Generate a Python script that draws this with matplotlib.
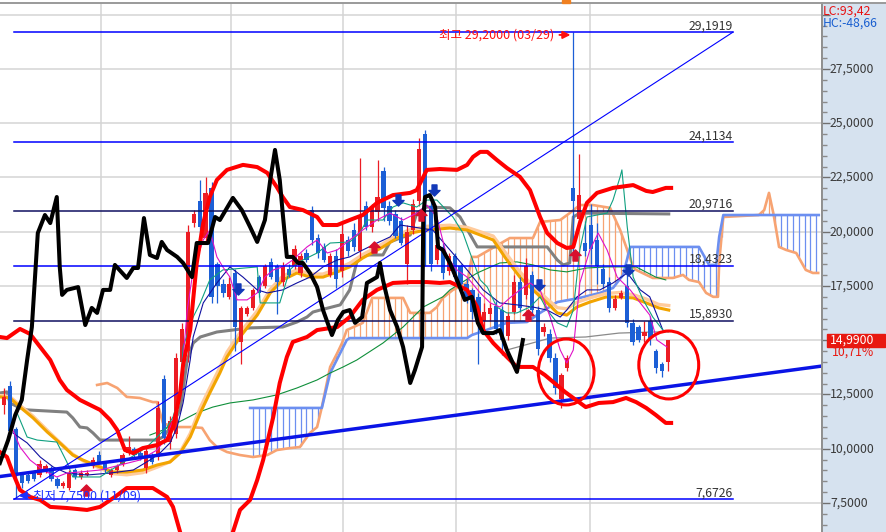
import numpy as np
import matplotlib
matplotlib.use('Agg')
import matplotlib.pyplot as plt
from matplotlib.patches import Ellipse, Rectangle
from matplotlib.path import Path
from matplotlib import font_manager

# ---------------- DATA ----------------
candle_open = [12.0, 12.9, 10.9, 8.9, 8.8, 8.9, 8.8, 9.0, 9.1, 8.6, 8.3, 8.2, 9.0, 8.7, 8.8, 9.2, 9.7, 9.3, 8.8, 9.0,
               9.3, 9.8, 10.0, 9.8, 9.1, 9.7, 9.6, 13.2, 10.3, 10.7, 14.0, 14.5, 20.4, 21.4, 19.7, 22.0, 18.5, 17.6, 17.0, 18.1,
               14.9, 16.2, 16.5, 17.9, 17.5, 18.6, 18.4, 17.7, 18.3, 18.4, 18.1, 19.0, 21.0, 19.7, 19.3, 18.0, 18.9, 18.2, 19.6, 20.1,
               19.1, 21.2, 20.2, 20.9, 22.8, 21.2, 20.8, 20.5, 18.5, 20.1, 21.4, 24.5, 21.2, 18.7, 19.3, 18.2, 18.9, 18.4, 17.6, 17.3,
               17.0, 15.9, 16.2, 16.6, 16.4, 15.2, 16.3, 17.7, 17.1, 18.0, 16.4, 15.4, 15.3, 14.2, 12.3, 13.7, 22.0, 20.6, 19.5, 20.3,
               19.6, 18.3, 17.7, 16.5, 16.95, 17.5, 15.8, 15.6, 15.2, 15.9, 14.5, 13.9, 14.0]
candle_high = [12.8, 13.1, 11.0, 8.95, 8.9, 9.0, 9.5, 9.3, 9.2, 8.7, 8.5, 9.0, 9.1, 9.0, 9.0, 9.6, 9.9, 9.4, 9.1, 9.3,
               9.8, 10.6, 10.1, 9.9, 10.1, 9.8, 12.2, 13.4, 11.5, 14.4, 15.8, 20.3, 21.0, 22.4, 22.5, 22.3, 18.6, 17.8, 17.9, 18.3,
               16.6, 16.6, 17.4, 18.0, 18.5, 18.8, 18.5, 18.6, 18.5, 19.4, 19.0, 19.2, 21.2, 19.9, 19.5, 19.0, 19.2, 20.4, 19.8, 20.4,
               23.4, 21.4, 21.3, 23.3, 23.0, 21.4, 21.0, 20.7, 20.3, 21.5, 24.3, 24.7, 21.6, 19.5, 19.5, 19.0, 19.0, 18.5, 17.8, 17.4,
               17.2, 16.7, 16.7, 16.8, 16.6, 16.3, 18.0, 17.9, 18.8, 18.2, 16.6, 15.8, 15.5, 14.4, 13.5, 14.3, 29.2, 23.6, 20.5, 21.3,
               20.4, 18.5, 17.9, 17.1, 17.3, 18.0, 16.0, 15.7, 15.9, 16.1, 14.6, 14.0, 15.0]
candle_low = [11.6, 10.6, 7.75, 8.2, 8.4, 8.5, 8.7, 8.9, 8.5, 8.2, 8.2, 8.1, 8.6, 8.6, 8.75, 9.1, 9.3, 8.9, 8.7, 8.9,
              9.2, 9.7, 9.6, 9.5, 8.9, 9.3, 9.5, 10.2, 10.0, 10.5, 13.8, 14.0, 20.2, 19.6, 19.5, 16.7, 16.7, 17.0, 16.9, 14.5,
              13.9, 16.1, 16.4, 17.0, 17.4, 17.8, 16.2, 17.5, 17.9, 18.3, 17.9, 18.6, 19.4, 18.8, 18.6, 17.9, 17.4, 17.9, 18.9, 19.1,
              18.8, 20.1, 20.0, 20.5, 20.5, 20.3, 19.7, 19.4, 17.6, 19.9, 21.2, 18.4, 18.2, 18.5, 17.8, 18.0, 17.7, 17.5, 16.7, 16.0,
              13.9, 15.5, 15.9, 15.3, 14.3, 15.0, 16.2, 16.3, 16.9, 16.2, 14.3, 15.2, 14.0, 12.5, 11.9, 13.6, 18.7, 20.4, 18.9, 18.5,
              17.6, 17.4, 16.3, 16.4, 16.9, 15.6, 14.8, 14.9, 14.9, 14.8, 13.5, 13.3, 13.6]
candle_close = [12.4, 10.8, 8.8, 8.4, 8.5, 8.6, 9.3, 9.2, 8.6, 8.3, 8.4, 8.9, 8.7, 8.9, 8.9, 9.5, 9.4, 9.0, 9.0, 9.2,
                9.7, 10.1, 9.7, 9.6, 9.9, 9.4, 11.9, 10.5, 11.3, 14.2, 15.5, 20.0, 20.8, 20.2, 21.8, 17.0, 17.5, 17.2, 17.6, 15.6,
                16.5, 16.5, 17.3, 17.2, 18.4, 17.9, 17.7, 18.4, 18.0, 19.2, 18.9, 18.7, 19.6, 19.0, 18.7, 18.9, 17.8, 19.9, 19.1, 19.3,
                20.7, 20.2, 21.1, 21.6, 21.1, 20.5, 19.8, 19.5, 20.0, 21.3, 23.8, 21.6, 18.5, 19.4, 18.1, 18.9, 17.9, 17.6, 16.9, 16.3,
                16.0, 16.3, 16.5, 15.5, 15.0, 16.1, 17.7, 16.5, 18.4, 16.4, 14.6, 15.6, 14.2, 12.8, 13.4, 14.2, 21.4, 21.7, 19.1, 19.2,
                18.4, 17.6, 16.5, 16.9, 17.2, 15.8, 14.9, 15.0, 15.4, 15.1, 13.7, 13.6, 14.99]

bb_upper = [(-0.7, 15.15), (0.5, 15.10), (2.7, 15.52), (4.4, 15.29), (6.1, 14.69), (7.8, 14.09), (9.4, 13.17),
            (10.6, 12.71), (12.8, 12.25), (16.2, 11.79), (17.9, 11.33), (19.1, 10.86), (20.4, 9.94), (21.8, 9.80),
            (23.4, 10.03), (25.8, 10.17), (26.8, 10.31), (27.5, 10.40), (28.5, 11.0), (29.7, 12.57), (30.2, 13.86),
            (31.4, 15.47), (32.5, 18.56), (33.6, 20.40), (34.7, 21.60), (35.9, 22.39), (37.6, 22.85), (40.3, 23.08),
            (42.7, 22.98), (44.4, 22.71), (46.0, 22.06), (47.0, 21.60), (48.2, 21.14), (50.4, 21.00), (52.8, 20.68),
            (53.8, 20.31), (56.2, 20.31), (58.3, 20.54), (60.5, 20.77), (62.9, 21.33), (65.6, 21.69), (68.5, 21.79),
            (69.6, 21.92), (71.3, 22.85), (73.5, 22.89), (76.4, 22.85), (78.1, 23.08), (79.1, 23.45), (80.3, 23.68),
            (81.5, 23.68), (83.1, 23.31), (84.8, 22.94), (87.0, 22.53), (88.7, 21.92), (90.4, 20.68), (91.6, 19.94),
            (93.3, 19.48), (94.9, 19.25), (96.0, 19.30), (97.1, 20.40), (98.3, 21.33), (100.0, 21.79), (102.7, 22.02),
            (106.1, 22.15), (108.3, 21.88), (109.4, 21.83), (111.6, 22.02), (112.5, 22.02)]
bb_lower = [(-0.7, 9.85), (0.5, 9.62), (1.5, 8.88), (2.7, 8.10), (4.4, 7.78), (6.1, 7.64), (7.8, 7.32), (10.6, 7.27),
            (14.0, 7.18), (16.2, 7.32), (18.7, 7.78), (20.7, 8.19), (22.9, 8.19), (25.1, 8.19), (27.5, 7.78), (28.5, 7.32),
            (29.7, 6.16), (30.2, 5.6), (37.9, 5.57), (38.6, 6.16), (39.8, 7.18), (41.5, 7.64), (42.7, 8.56), (43.7, 9.48),
            (45.4, 11.46), (46.5, 13.03), (47.7, 14.23), (48.7, 14.92), (51.1, 15.15), (52.8, 15.47), (56.2, 15.61),
            (58.3, 16.07), (60.5, 16.86), (62.9, 17.32), (65.6, 17.64), (68.5, 17.68), (71.3, 17.68), (73.5, 17.64),
            (75.2, 17.68), (78.1, 17.32), (79.8, 16.53), (80.8, 15.47), (82.5, 14.87), (84.8, 14.23), (86.5, 13.77),
            (89.2, 13.77), (91.2, 13.40), (94.6, 12.62), (98.1, 11.92), (100.3, 12.11), (102.7, 12.15), (104.9, 12.34),
            (106.6, 12.15), (108.3, 11.88), (109.9, 11.56), (111.6, 11.19), (112.5, 11.19)]
black_line = [(-0.7, 9.34), (0.7, 10.40), (1.9, 11.56), (3.0, 12.25), (3.9, 14.09), (4.7, 15.61), (5.2, 17.78),
              (5.7, 19.94), (6.9, 20.77), (7.8, 20.40), (8.9, 21.60), (9.4, 18.38), (9.8, 17.09), (10.6, 17.32),
              (12.5, 17.45), (13.7, 15.70), (14.8, 16.49), (15.7, 16.26), (16.7, 17.32), (17.9, 17.32), (18.7, 18.47),
              (20.7, 17.87), (21.8, 18.33), (22.6, 18.33), (23.6, 20.63), (24.6, 18.93), (25.8, 18.79), (26.6, 19.53),
              (27.5, 19.16), (29.2, 18.84), (30.2, 18.56), (31.7, 17.91), (32.5, 19.48), (34.4, 19.48), (35.6, 20.68),
              (36.4, 20.54), (38.6, 21.56), (40.1, 21.00), (41.5, 20.22), (42.7, 19.53), (44.0, 20.54), (44.9, 22.39),
              (45.7, 23.77), (46.5, 22.39), (47.0, 20.86), (47.7, 18.84), (48.7, 18.84), (49.6, 18.56), (50.4, 18.56),
              (51.6, 18.10), (52.8, 17.45), (53.8, 16.39), (55.3, 15.24), (56.3, 15.93), (57.2, 16.30), (58.3, 16.39),
              (59.2, 15.80), (60.4, 16.07), (61.2, 17.64), (62.9, 17.91), (63.4, 18.56), (63.9, 17.78), (65.1, 16.39),
              (66.3, 15.61), (67.3, 14.69), (68.5, 13.03), (69.3, 13.63), (70.5, 14.69), (70.7, 20.68), (71.0, 21.60),
              (71.8, 21.69), (72.7, 21.14), (73.2, 19.30), (74.0, 19.16), (75.2, 18.56), (76.6, 17.64), (77.7, 16.86),
              (78.9, 17.00), (79.9, 15.80), (80.8, 15.33), (82.5, 15.33), (83.6, 15.47), (84.8, 14.55), (86.5, 13.54),
              (87.5, 15.01)]
span_a = [(15.7, 12.94), (17.4, 13.03), (19.1, 12.80), (20.7, 12.39), (22.9, 12.34), (25.1, 12.15), (25.8, 12.15),
          (26.8, 11.19), (28.5, 11.00), (31.4, 11.00), (33.4, 10.96), (34.7, 10.40), (35.9, 10.08), (37.6, 9.85),
          (39.8, 9.71), (42.0, 9.62), (44.4, 9.71), (46.0, 9.94), (48.2, 10.03), (49.9, 10.08), (51.6, 10.73),
          (52.8, 11.00), (53.6, 11.92), (55.0, 13.77), (56.2, 14.41), (57.0, 14.87), (57.8, 15.47), (60.5, 15.80),
          (62.1, 16.95), (63.9, 16.95), (67.3, 16.95), (68.5, 16.26), (71.8, 16.26), (73.0, 16.53), (74.0, 16.95),
          (75.7, 17.32), (78.1, 17.64), (78.9, 18.84), (79.8, 18.84), (85.3, 19.71), (89.2, 19.71), (90.4, 20.45),
          (93.8, 20.54), (95.4, 20.86), (97.1, 21.23), (99.3, 21.23), (102.2, 21.10), (103.9, 20.08), (105.1, 19.16),
          (106.1, 18.38), (106.6, 18.24), (109.4, 17.87), (112.8, 17.87), (114.5, 18.01), (115.5, 17.78), (117.2, 17.68),
          (118.4, 17.18), (119.6, 17.00), (120.4, 17.00), (120.6, 18.56), (121.3, 20.68), (127.3, 20.77), (128.2, 21.00),
          (129.0, 21.79), (129.8, 20.77), (130.7, 19.30), (131.9, 19.16), (133.6, 19.02), (135.2, 18.24), (136.4, 18.10),
          (137.3, 18.10)]
span_b = [(41.5, 11.88), (53.6, 11.88), (55.0, 13.49), (56.7, 14.41), (57.8, 15.01), (58.3, 15.10), (78.1, 15.10),
          (78.9, 15.24), (84.8, 15.80), (88.2, 15.84), (90.4, 16.26), (93.3, 16.76), (97.1, 16.95), (100.5, 17.18),
          (102.7, 17.41), (104.4, 18.01), (105.6, 19.30), (114.5, 19.30), (117.2, 19.30), (118.9, 18.47), (120.1, 18.47),
          (120.6, 19.76), (121.3, 20.77), (137.4, 20.77)]
ma_orange = [(-0.7, 12.39), (1.0, 12.34), (2.7, 11.92), (4.9, 11.42), (7.3, 10.77), (9.4, 10.27), (11.6, 9.71),
             (13.3, 9.48), (16.2, 9.16), (18.4, 8.93), (20.7, 8.93), (23.4, 9.02), (25.8, 9.25), (28.0, 9.39), (29.7, 9.80),
             (31.4, 10.54), (33.1, 11.65), (34.7, 12.57), (36.4, 13.49), (37.6, 14.23), (39.8, 15.15), (42.7, 16.16),
             (44.9, 17.18), (47.0, 17.78), (49.4, 18.10), (51.6, 17.91), (53.8, 17.91), (56.2, 18.15), (58.3, 18.38),
             (60.5, 18.79), (63.9, 19.30), (66.3, 19.71), (68.5, 19.94), (71.3, 20.08), (75.2, 20.17), (78.1, 20.08),
             (80.3, 19.85), (82.5, 19.62), (84.8, 18.70), (87.0, 17.91), (89.2, 17.32), (91.6, 16.72), (93.3, 16.26),
             (94.9, 16.16), (96.6, 16.53), (98.8, 16.76), (101.5, 16.99), (103.7, 16.99), (106.1, 16.95), (108.3, 16.72),
             (110.4, 16.49), (112.1, 16.39)]
ma_peach = [(-0.7, 12.45), (1.0, 12.40), (2.7, 12.0), (4.9, 11.5), (7.3, 10.85), (9.4, 10.3), (11.6, 9.75), (13.3, 9.45),
            (16.2, 9.1), (18.4, 8.85), (20.7, 8.8), (23.4, 8.9), (25.8, 9.15), (28.0, 9.4), (29.7, 9.85), (31.4, 10.7),
            (33.1, 11.9), (34.7, 12.8), (36.4, 13.75), (37.6, 14.45), (39.8, 15.35), (42.7, 16.35), (44.9, 17.35),
            (47.0, 17.95), (49.4, 18.25), (51.6, 18.05), (53.8, 18.05), (56.2, 18.3), (58.3, 18.55), (60.5, 18.95),
            (63.9, 19.45), (66.3, 19.85), (68.5, 20.1), (71.3, 20.25), (75.2, 20.3), (78.1, 20.2), (80.3, 20.0),
            (82.5, 19.8), (84.8, 18.95), (87.0, 18.15), (89.2, 17.5), (91.6, 16.9), (93.3, 16.5), (94.9, 16.45),
            (96.6, 16.75), (98.8, 16.95), (101.5, 17.15), (103.7, 17.2), (106.1, 17.1), (108.3, 16.9), (110.4, 16.65),
            (112.1, 16.6)]
ma_green = [(24.6, 10.63), (26.8, 10.86), (29.2, 11.19), (32.5, 11.65), (35.2, 11.92), (38.1, 12.11), (42.0, 12.25),
            (46.0, 12.48), (49.4, 12.80), (52.8, 13.17), (55.0, 13.49), (57.2, 13.77), (59.5, 14.09), (63.9, 14.87),
            (67.3, 15.61), (70.7, 16.53), (74.0, 17.00), (75.2, 17.32), (79.8, 18.10), (83.6, 18.56), (86.5, 18.61),
            (89.2, 18.47), (92.1, 18.24), (94.9, 18.15), (98.3, 18.33), (101.7, 18.38), (106.6, 18.38), (109.9, 17.91),
            (111.6, 17.78)]
gray_thick = [(-0.7, 12.57), (0.5, 12.62), (1.0, 12.11), (2.7, 11.88), (3.9, 11.79), (10.6, 11.69), (11.6, 11.42),
              (12.8, 11.00), (14.0, 10.96), (15.0, 10.73), (16.2, 10.40), (25.8, 10.40), (26.8, 10.54), (28.0, 10.96),
              (29.7, 11.79), (30.9, 14.09), (31.9, 14.87), (33.1, 15.15), (35.9, 15.38), (41.5, 15.57), (47.0, 15.61),
              (49.4, 15.84), (51.1, 16.07), (52.1, 16.30), (53.3, 16.39), (56.7, 16.63), (58.3, 17.32), (59.5, 18.61),
              (60.5, 18.93), (63.9, 18.93), (65.1, 19.53), (67.3, 19.76), (68.5, 19.85), (69.6, 20.86), (71.3, 21.14),
              (75.2, 21.10), (76.9, 20.68), (79.8, 19.30), (91.6, 19.30), (93.3, 18.70), (94.3, 18.47), (95.4, 18.56),
              (96.0, 20.68), (97.1, 20.86), (112.1, 20.82)]
gray_thin = [(84.8, 14.55), (92.1, 15.10), (98.1, 15.15), (103.7, 15.33), (109.4, 15.38), (111.6, 15.38)]
ma_magenta = [(1.5, 10.86), (2.7, 10.08), (4.4, 9.48), (6.6, 9.02), (8.9, 8.70), (10.6, 8.88), (12.8, 8.93), (16.2, 9.02),
              (19.6, 9.25), (22.9, 9.48), (25.8, 9.94), (27.5, 10.54), (28.5, 11.33), (29.7, 12.57), (30.9, 16.39),
              (31.9, 18.24), (33.6, 19.62), (34.7, 20.08), (35.9, 18.84), (36.9, 18.38), (38.1, 17.91), (39.3, 16.86),
              (41.0, 16.86), (42.7, 17.18), (44.0, 17.91), (45.4, 18.24), (47.0, 18.38), (48.7, 18.70), (51.1, 19.30),
              (52.8, 19.62), (54.5, 19.02), (56.2, 19.16), (58.3, 19.62), (60.5, 20.08), (62.9, 20.54), (65.1, 20.86),
              (67.3, 20.54), (69.6, 20.86), (71.3, 21.23), (73.0, 20.68), (74.7, 18.84), (76.4, 18.24), (78.1, 17.91),
              (80.3, 17.18), (82.0, 16.72), (83.6, 16.53), (85.3, 16.95), (87.0, 17.32), (88.7, 17.64), (90.4, 17.32),
              (92.1, 16.07), (93.8, 14.55), (94.9, 13.95), (96.0, 14.55), (97.1, 17.64), (98.8, 19.16), (100.2, 19.94),
              (101.7, 19.16), (103.4, 17.91), (105.6, 17.32), (107.3, 16.72), (108.9, 16.16), (110.1, 15.01),
              (111.8, 14.69)]
ma_teal = [(2.2, 11.65), (3.9, 10.54), (5.6, 10.40), (8.9, 10.31), (10.6, 9.39), (11.6, 8.70), (16.2, 8.70), (20.7, 9.48),
           (24.1, 10.08), (25.8, 10.54), (27.5, 11.00), (28.5, 11.46), (29.7, 12.57), (30.2, 14.69), (31.9, 16.07),
           (33.1, 16.72), (34.7, 17.78), (36.9, 18.24), (42.7, 18.38), (43.2, 16.72), (46.5, 16.72), (48.2, 18.24),
           (49.4, 18.56), (52.8, 19.02), (55.0, 19.48), (58.3, 19.53), (60.0, 19.94), (61.2, 20.54), (63.9, 20.54),
           (65.6, 21.14), (67.3, 21.33), (69.6, 21.14), (71.3, 21.46), (73.0, 21.46), (75.7, 20.68), (77.4, 19.94),
           (78.6, 19.02), (80.3, 17.78), (81.5, 17.45), (83.1, 16.53), (84.8, 16.26), (86.5, 16.26), (88.7, 16.53),
           (90.4, 17.00), (91.6, 16.39), (93.3, 15.80), (94.9, 15.61), (96.0, 16.39), (97.1, 19.16), (98.3, 20.68),
           (101.7, 20.86), (102.7, 21.46), (103.9, 22.53), (104.2, 22.85), (105.1, 20.22), (106.1, 17.91), (107.8, 16.86),
           (109.4, 16.07), (111.1, 15.47), (112.0, 15.38)]
ma_navy = [(1.5, 10.73), (3.9, 10.27), (6.1, 9.62), (8.3, 9.16), (10.6, 8.88), (14.0, 8.79), (17.9, 8.88), (21.8, 9.02),
           (24.6, 9.48), (26.3, 9.80), (28.0, 10.27), (29.2, 11.00), (30.2, 12.11), (31.4, 14.09), (31.9, 15.15),
           (33.6, 16.72), (35.9, 17.64), (38.1, 18.38), (40.3, 17.91), (42.7, 17.32), (44.4, 17.18), (47.0, 17.32),
           (49.4, 17.64), (51.6, 17.91), (53.8, 18.38), (56.2, 18.70), (58.3, 18.84), (60.5, 19.16), (62.9, 19.48),
           (65.1, 19.76), (66.8, 20.31), (72.3, 20.08), (75.2, 19.16), (78.1, 18.24), (80.8, 17.32), (83.6, 16.72),
           (86.5, 16.63), (89.2, 16.53), (91.6, 16.39), (93.8, 16.07), (94.9, 16.39), (96.6, 16.99), (98.3, 17.32),
           (100.5, 17.32), (102.7, 17.64), (105.1, 18.10), (107.3, 17.32), (108.9, 17.00), (111.1, 15.47)]

fib_levels = [29.1919, 24.1134, 20.9716, 18.4323, 15.8930, 7.6726]
fib_labels = ['29,1919', '24,1134', '20,9716', '18,4323', '15,8930', '7,6726']
fib_colors = ['#0000ff', '#0000ff', '#101060', '#0000ff', '#101060', '#0000ff']
fib_x = [1.7, 122.9]
trend_thin = [(1.7, 7.6726), (122.9, 29.1919)]
trend_thick = [(-0.7, 8.72), (137.9, 13.81)]

signal_up = [(13.8, 8.12), (62.4, 19.30), (70.3, 20.77), (88.4, 16.16), (96.3, 18.93)]
signal_down = [(39.5, 17.36), (66.4, 21.46), (72.5, 21.92), (90.2, 17.55), (105.2, 18.24)]
circles = [(94.8, 13.54, 9.4, 3.04), (112.1, 13.86, 10.1, 3.13)]

month_lines = [16.4, 38.3, 57.2, 76.2, 98.8]
ytick_values = [7.5, 10.0, 12.5, 15.0, 17.5, 20.0, 22.5, 25.0, 27.5, 30.0]
ytick_labels = ['7,5000', '10,0000', '12,5000', '15,0000', '17,5000', '20,0000', '22,5000', '25,0000', '27,5000', '30,0000']
last_price_label = '14,9900'
last_price = 14.99
change_label = '10,71%'
high_text = '최고 29,2000 (03/29)'
low_text = '최저 7,7500 (11/09)'
high_point = (96.0, 29.2)
low_point = (2.0, 7.75)

# ---------------- FONTS ----------------
avail = {f.name for f in font_manager.fontManager.ttflist}
if 'Liberation Sans Narrow' in avail:
    NUM_FONT, NUM_SIZE = ['Liberation Sans Narrow', 'DejaVu Sans'], 10
else:
    NUM_FONT, NUM_SIZE = ['Noto Sans CJK KR', 'DejaVu Sans'], 8.8
KR_FONT = ['Noto Sans CJK KR', 'DejaVu Sans']

# ---------------- FIGURE ----------------
W, H = 886, 532
fig = plt.figure(figsize=(W / 100, H / 100), dpi=100)
fig.patch.set_facecolor('white')
X0, DX = 4.0, 5.93
YMIN, YMAX = 6.164, 30.54
ax = fig.add_axes([0, 0, 822 / W, 529 / H])
ax.set_xlim(-X0 / DX, (822 - X0) / DX)
ax.set_ylim(YMIN, YMAX)
ax.set_xticks([])
ax.set_yticks([])
for s in ['left', 'bottom']:
    ax.spines[s].set_visible(False)
ax.spines['top'].set_color('#9a9a9a')
ax.spines['top'].set_linewidth(1.4)
ax.spines['right'].set_color('#a0a0a0')
ax.spines['right'].set_linewidth(1.4)

grid_c = '#d4d4d4'
for v in ytick_values:
    ax.axhline(v, color=grid_c, lw=1.1, zorder=0)
for m in month_lines:
    ax.axvline(m, color=grid_c, lw=1.1, zorder=0)


def xy(pairs):
    return [p[0] for p in pairs], [p[1] for p in pairs]


# Ichimoku cloud hatch
hx = np.arange(42, 138)
ax_, ay_ = xy(span_a)
bx_, by_ = xy(span_b)
a_i = np.interp(hx, ax_, ay_, left=np.nan, right=np.nan)
b_i = np.interp(hx, bx_, by_, left=np.nan, right=np.nan)
ok = ~np.isnan(a_i) & ~np.isnan(b_i)
om = ok & (a_i > b_i)
bm = ok & (a_i <= b_i)
ax.vlines(hx[om], b_i[om], a_i[om], color='#f7a372', lw=0.9, zorder=1)
ax.vlines(hx[bm], a_i[bm], b_i[bm], color='#6c8ff0', lw=0.9, zorder=1)
ax.plot(*xy(span_a), color='#f7a372', lw=1.9, zorder=2, solid_joinstyle='round')
ax.plot(*xy(span_b), color='#6c8ff0', lw=1.9, zorder=2, solid_joinstyle='round')

# moving averages
ax.plot(*xy(gray_thin), color='#8a8a8a', lw=0.9, zorder=3)
ax.plot(*xy(ma_green), color='#0f8f3a', lw=0.8, zorder=3)
ax.plot(*xy(gray_thick), color='#808080', lw=2.2, zorder=3)
ax.plot(*xy(ma_peach), color='#ffcb9c', lw=2.4, zorder=3)
ax.plot(*xy(ma_orange), color='#f2a400', lw=2.2, zorder=3)

# candles
n = len(candle_close)
idx = np.arange(n)
o = np.array(candle_open); c = np.array(candle_close)
h = np.array(candle_high); l = np.array(candle_low)
up = c >= o
RED, BLUE = '#ec1c24', '#1c5fd6'
cols = np.where(up, RED, BLUE)
ax.vlines(idx, l, h, colors=cols, lw=0.9, zorder=4)
bottom = np.minimum(o, c)
height = np.maximum(np.abs(c - o), 0.06)
ax.bar(idx, height, bottom=bottom, width=0.72, color=cols, linewidth=0, zorder=4)

# thin indicator lines
ax.plot(*xy(ma_navy), color='#1010a0', lw=0.8, zorder=5)
ax.plot(*xy(ma_teal), color='#10a080', lw=0.8, zorder=5)
ax.plot(*xy(ma_magenta), color='#e010c8', lw=0.8, zorder=5)

# fibonacci + trend lines
for lv, lb, fc in zip(fib_levels, fib_labels, fib_colors):
    ax.plot(fib_x, [lv, lv], color=fc, lw=1.1, zorder=5)
    ax.text(fib_x[1], lv + 0.14, lb, ha='right', va='baseline', color='#333333',
            fontsize=NUM_SIZE, family=NUM_FONT, zorder=9)
ax.plot(*xy(trend_thin), color='#0000ff', lw=0.8, zorder=5)
ax.plot(*xy(trend_thick), color='#0a14e6', lw=2.5, zorder=6)

# bollinger + black
ax.plot(*xy(bb_upper), color='#ff0000', lw=2.9, zorder=6, solid_joinstyle='round')
ax.plot(*xy(bb_lower), color='#ff0000', lw=2.9, zorder=6, solid_joinstyle='round')
ax.plot(*xy(black_line), color='#000000', lw=2.9, zorder=6, solid_joinstyle='round')

# signal arrows
up_arrow = Path([(-0.22, -0.5), (0.22, -0.5), (0.22, 0.0), (0.5, 0.0), (0.0, 0.5), (-0.5, 0.0), (-0.22, 0.0), (-0.22, -0.5)],
                [Path.MOVETO] + [Path.LINETO] * 6 + [Path.CLOSEPOLY])
dn_arrow = Path([(-0.22, 0.5), (0.22, 0.5), (0.22, 0.0), (0.5, 0.0), (0.0, -0.5), (-0.5, 0.0), (-0.22, 0.0), (-0.22, 0.5)],
                [Path.MOVETO] + [Path.LINETO] * 6 + [Path.CLOSEPOLY])
ux, uy = xy(signal_up)
dx_, dy_ = xy(signal_down)
ax.plot(ux, uy, ls='none', marker=up_arrow, markersize=8, color='#d8102c', zorder=7)
ax.plot(dx_, dy_, ls='none', marker=dn_arrow, markersize=8, color='#1238b8', zorder=7)

# circles
for cx, cy, cw, chh in circles:
    ax.add_patch(Ellipse((cx, cy), cw, chh, fill=False, ec='#ff0000', lw=2.2, zorder=8))

# high / low annotations
ax.text(92.8, 29.07, high_text, ha='right', va='center', color='#ff1010', fontsize=9, family=KR_FONT, zorder=9)
ax.annotate('', xy=(high_point[0], 29.07), xytext=(93.2, 29.07),
            arrowprops=dict(arrowstyle='-|>', color='#ff1010', lw=1.4, mutation_scale=11), zorder=9)
ax.text(4.9, 7.84, low_text, ha='left', va='center', color='#1a32ff', fontsize=9, family=KR_FONT, zorder=9)
ax.annotate('', xy=(low_point[0], 7.84), xytext=(4.8, 7.84),
            arrowprops=dict(arrowstyle='-|>', color='#1a32ff', lw=1.4, mutation_scale=11), zorder=9)

# ---------------- RIGHT PANEL ----------------
ax2 = fig.add_axes([822 / W, 0, 64 / W, 529 / H])
ax2.set_facecolor('#d6e2ef')
ax2.set_xlim(0, 64)
ax2.set_ylim(YMIN, YMAX)
for s in ['right', 'bottom']:
    ax2.spines[s].set_visible(False)
ax2.spines['top'].set_color('#9a9a9a'); ax2.spines['top'].set_linewidth(1.4)
ax2.spines['left'].set_color('#909090'); ax2.spines['left'].set_linewidth(1.4)
ax2.set_xticks([])
ax2.set_yticks(ytick_values)
ax2.set_yticks([v / 2 for v in range(13, 61)], minor=True)
ax2.tick_params(axis='y', which='major', direction='in', length=6, width=1, colors='#707070',
                left=True, right=False, labelleft=False)
ax2.tick_params(axis='y', which='minor', direction='in', length=3.5, width=1, colors='#8a8a8a',
                left=True, right=False)
for v, lb in zip(ytick_values, ytick_labels):
    if v in (15.0, 30.0):
        continue
    ax2.text(8, v, lb, ha='left', va='center', color='#3a3a3a', fontsize=NUM_SIZE, family=NUM_FONT)
ax2.add_patch(Rectangle((4.5, 14.70), 58, 0.60, color='#e81810', zorder=5))
ax2.text(8, last_price, last_price_label, ha='left', va='center', color='white', fontsize=NUM_SIZE,
         family=NUM_FONT, zorder=6)
ax2.text(10, 14.45, change_label, ha='left', va='center', color='#e81810', fontsize=NUM_SIZE, family=NUM_FONT)
ax2.text(1, 30.17, 'LC:93,42', ha='left', va='center', color='#e81010', fontsize=NUM_SIZE, family=NUM_FONT)
ax2.text(1, 29.62, 'HC:-48,66', ha='left', va='center', color='#1a5fd0', fontsize=NUM_SIZE, family=NUM_FONT)

fig.patches.append(Rectangle((562 / W, 529.5 / H), 8 / W, 2.5 / H, color='#f08020', transform=fig.transFigure))

fig.savefig('out.png', dpi=100)
